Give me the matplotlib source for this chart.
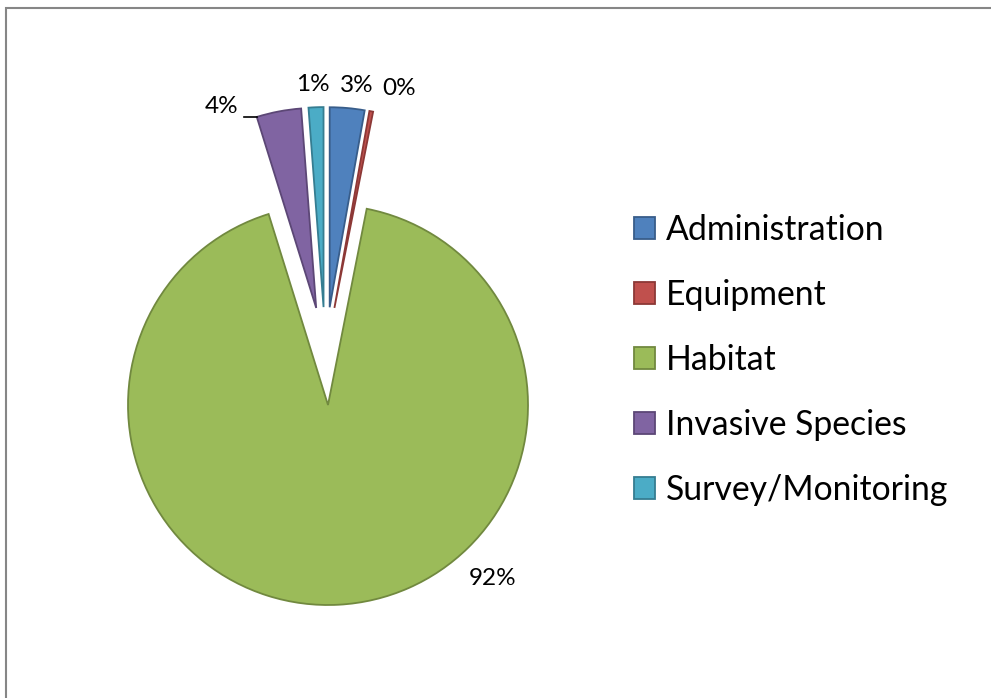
import numpy as np
import matplotlib.pyplot as plt
from matplotlib.patches import Rectangle

# data (percent of total)
categories = ['Administration', 'Equipment', 'Habitat', 'Invasive Species', 'Survey/Monitoring']
values = [2.8, 0.3, 92.1, 3.6, 1.2]
pct_labels = ['3%', '0%', '92%', '4%', '1%']

face_colors = ['#4F81BD', '#C0504D', '#9BBB59', '#8064A2', '#4BACC6']
edge_colors = ['#385D8A', '#8C3836', '#71893F', '#5C4776', '#357D91']
explode = 0.245

plt.rcParams['font.family'] = ['Lato', 'DejaVu Sans']

W, H = 991, 698
fig = plt.figure(figsize=(W / 100, H / 100), dpi=100)
ax = fig.add_axes([0, 0, 1, 1])

# Habitat vertex sits at pixel (328, 405); radius 200 px -> 1 data unit
cx, cy, rpx = 328, 405, 200

# shift pie centre so the exploded Habitat slice has its vertex at (0, 0)
fracs = np.array(values) / sum(values)
start = fracs[:2].sum() * 360
mid_hab = np.deg2rad(90 - (start + fracs[2] * 180))
center = (-explode * np.cos(mid_hab), -explode * np.sin(mid_hab))

wedges, _ = ax.pie(values, explode=[explode] * len(values), startangle=90,
                   counterclock=False, colors=face_colors, radius=1.0,
                   center=center, frame=True, wedgeprops=dict(linewidth=1.3))
for w, ec in zip(wedges, edge_colors):
    w.set_edgecolor(ec)
ax.set_xlim(-cx / rpx, (W - cx) / rpx)
ax.set_ylim(-(H - cy) / rpx, cy / rpx)
ax.set_aspect('auto')
ax.axis('off')

# label placement: (clockwise angle from top in degrees, distance from centre)
label_pos = {'Administration': (6.65, 1.364), 'Equipment': (15.4, 1.39),
             'Habitat': (143, 1.39), 'Survey/Monitoring': (-2.6, 1.357)}
fs_lab = 17.5

for w, name, txt in zip(wedges, categories, pct_labels):
    if name in label_pos:
        ang, dist = label_pos[name]
        a = np.deg2rad(90 - ang)
        x, y = center[0] + dist * np.cos(a), center[1] + dist * np.sin(a)
        ax.text(x, y, txt, ha='center', va='center', fontsize=fs_lab)
    else:
        # leader line from the outer left corner of the slice
        mid = np.deg2rad((w.theta1 + w.theta2) / 2)
        ox = center[0] + explode * np.cos(mid)
        oy = center[1] + explode * np.sin(mid)
        ca = np.deg2rad(max(w.theta1, w.theta2))
        px, py = ox + np.cos(ca), oy + np.sin(ca)
        ax.plot([px - 0.065, px], [py, py], color='black', lw=1.2)
        ax.text(px - 0.09, py + 0.05, txt, ha='right', va='center', fontsize=fs_lab)

leg = ax.legend(wedges, categories, loc='upper left',
                bbox_to_anchor=(634 / W, 1 - 214 / H), bbox_transform=fig.transFigure,
                frameon=False, fontsize=24.3, handlelength=0.62, handleheight=0.62,
                handletextpad=0.32, labelspacing=0.975, borderpad=0, borderaxespad=0)

# chart border
fig.patches.append(Rectangle((5.5 / W, -0.1), 1.2, 1 - 8 / H + 0.1, transform=fig.transFigure,
                             fill=False, edgecolor='#868686', linewidth=1.5))

fig.savefig('out.png', dpi=100)
